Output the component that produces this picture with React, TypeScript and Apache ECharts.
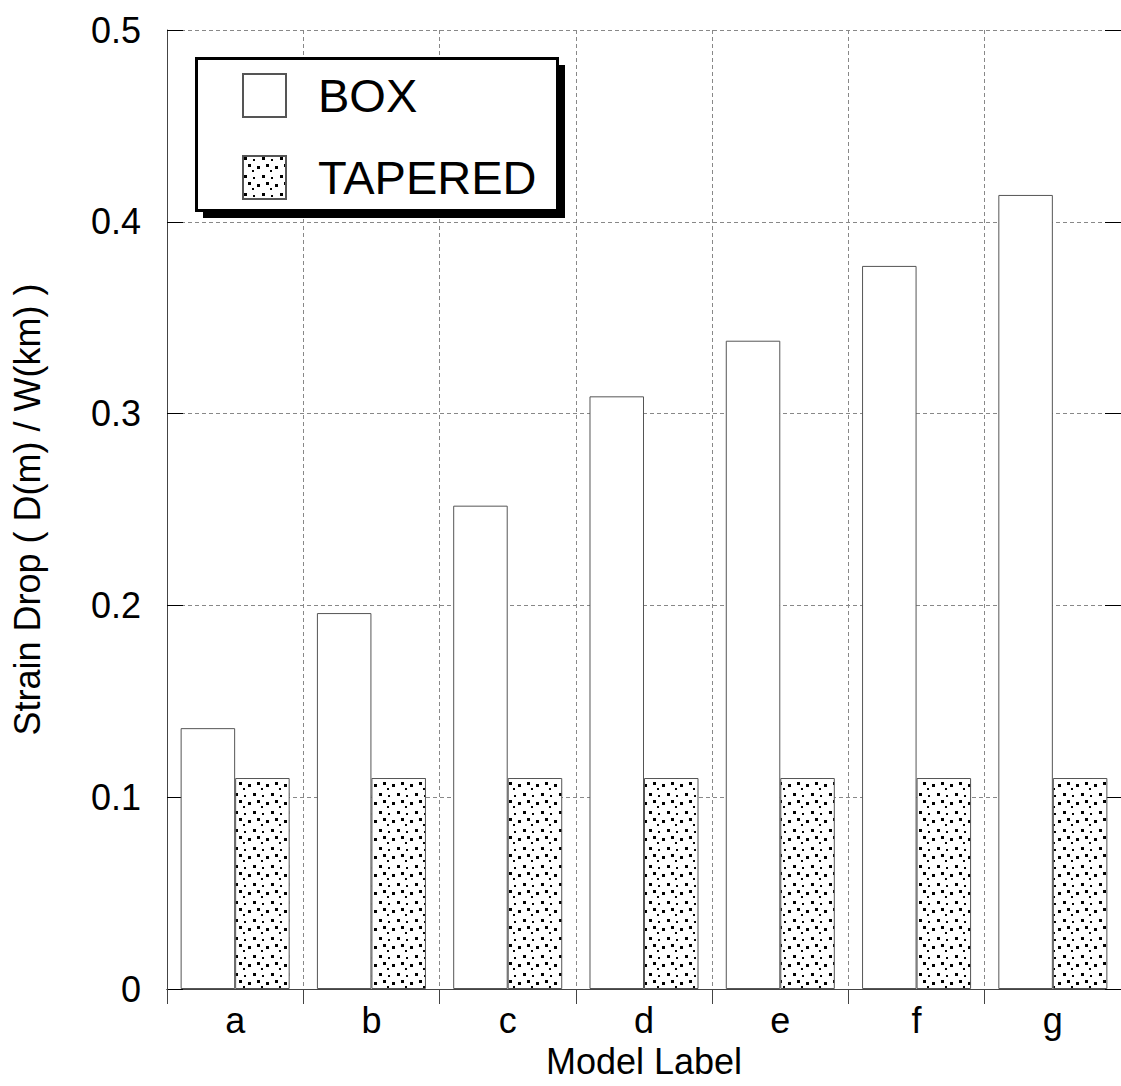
import React, { useEffect, useRef } from "react";
import * as echarts from "echarts";

const categories = ["a", "b", "c", "d", "e", "f", "g"];
const boxValues = [0.136, 0.196, 0.252, 0.309, 0.338, 0.377, 0.414];
const taperedValues = [0.11, 0.11, 0.11, 0.11, 0.11, 0.11, 0.11];
const seriesNames = ["BOX", "TAPERED"];
const yTicks = { min: 0, max: 0.5, interval: 0.1 };
const xTitle = "Model Label";
const yTitle = "Strain Drop ( D(m) / W(km) )";

const FONT = "'Liberation Sans', Arial, Helvetica, sans-serif";

function makeDots(): HTMLCanvasElement {
  const c = document.createElement("canvas");
  c.width = 18;
  c.height = 18;
  const ctx = c.getContext("2d")!;
  ctx.fillStyle = "#ffffff";
  ctx.fillRect(0, 0, 18, 18);
  ctx.fillStyle = "#000000";
  const dots: [number, number, number][] = [
    [1, 1, 3],
    [10, 3, 2],
    [5, 8, 3],
    [14, 10, 3],
    [9, 14, 2],
  ];
  dots.forEach(([x, y, s]) => ctx.fillRect(x, y, s, s));
  return c;
}

export default function App() {
  const ref = useRef<HTMLDivElement>(null);
  useEffect(() => {
    if (!ref.current) return;
    const chart = echarts.init(ref.current, null, { renderer: "svg" });
    const pattern = { image: makeDots(), repeat: "repeat" } as any;
    const option: any = {
      animation: false,
      backgroundColor: "#ffffff",
      grid: { left: 167, top: 30, right: -5, bottom: 97, containLabel: false },
      legend: {
        orient: "vertical",
        left: 237,
        top: 67,
        itemWidth: 43,
        itemHeight: 43,
        itemGap: 35,
        icon: "rect",
        z: 20,
        data: seriesNames,
        textStyle: {
          fontFamily: FONT,
          fontSize: 47,
          color: "#000",
          padding: [0, 0, 0, 27],
        },
      },
      graphic: [
        {
          type: "rect",
          z: 10,
          shape: { x: 203, y: 65, width: 362, height: 153 },
          style: { fill: "#000" },
        },
        {
          type: "rect",
          z: 11,
          shape: { x: 196.5, y: 58.5, width: 361, height: 152 },
          style: { fill: "#fff", stroke: "#000", lineWidth: 3 },
        },
      ],
      xAxis: [
        {
          type: "category",
          data: categories,
          position: "bottom",
          axisLine: { lineStyle: { color: "#000", width: 1 } },
          axisTick: { show: false },
          axisLabel: {
            fontFamily: FONT,
            fontSize: 36,
            color: "#000",
            margin: 13,
          },
          splitLine: {
            show: true,
            lineStyle: { color: "#888", type: [4, 3], width: 1 },
          },
          name: xTitle,
          nameLocation: "middle",
          nameGap: 54,
          nameTextStyle: { fontFamily: FONT, fontSize: 36, color: "#000" },
        },
        {
          type: "category",
          data: categories,
          position: "top",
          axisLine: { lineStyle: { color: "#444", width: 1 } },
          axisTick: { show: true, inside: true, length: 15, lineStyle: { color: "#444" } },
          axisLabel: { show: false },
          splitLine: { show: false },
        },
      ],
      yAxis: [
        {
          type: "value",
          min: yTicks.min,
          max: yTicks.max,
          interval: yTicks.interval,
          position: "left",
          axisLine: { show: true, lineStyle: { color: "#444", width: 1 } },
          axisTick: { show: true, inside: true, length: 16, lineStyle: { color: "#000" } },
          axisLabel: {
            fontFamily: FONT,
            fontSize: 36,
            color: "#000",
            margin: 26,
          },
          splitLine: {
            show: true,
            lineStyle: { color: "#888", type: [4, 3], width: 1 },
          },
          name: yTitle,
          nameLocation: "middle",
          nameGap: 122,
          nameRotate: 90,
          nameTextStyle: { fontFamily: FONT, fontSize: 36, color: "#000" },
        },
        {
          type: "value",
          min: yTicks.min,
          max: yTicks.max,
          interval: yTicks.interval,
          position: "right",
          axisLine: { show: true, lineStyle: { color: "#444" } },
          axisTick: { show: true, inside: true, length: 16, lineStyle: { color: "#000" } },
          axisLabel: { show: false },
          splitLine: { show: false },
        },
      ],
      series: [
        {
          name: seriesNames[0],
          type: "bar",
          data: boxValues,
          barGap: "0%",
          barCategoryGap: "20%",
          itemStyle: { color: "#fff", borderColor: "#555", borderWidth: 1 },
        },
        {
          name: seriesNames[1],
          type: "bar",
          data: taperedValues,
          barGap: "0%",
          barCategoryGap: "20%",
          itemStyle: { color: pattern, borderColor: "#555", borderWidth: 1 },
        },
      ],
    };
    chart.setOption(option);
    return () => chart.dispose();
  }, []);
  return (
    <div
      ref={ref}
      style={{ position: "absolute", left: 0, top: 0, width: 1121, height: 1086, background: "#fff" }}
    />
  );
}
